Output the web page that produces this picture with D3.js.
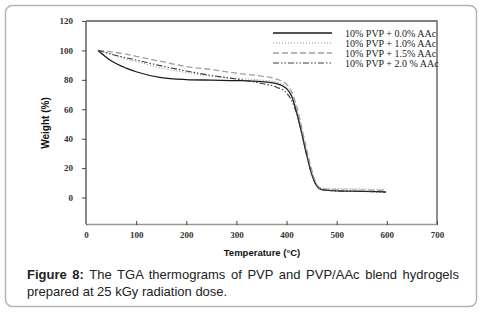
<!DOCTYPE html>
<html>
<head>
<meta charset="utf-8">
<script src="https://cdn.jsdelivr.net/npm/d3@7"></script>
<style>
  body { margin: 0; background: #fff; }
  #wrap { position: relative; width: 482px; height: 312px; }
  #caption {
    position: absolute; left: 27px; top: 266px; width: 432px;
    font-family: "Liberation Sans", Arial, sans-serif; font-size: 13px;
    line-height: 17px; color: #222; text-align: justify; text-align-last: left;
  }
</style>
</head>
<body>
<div id="wrap">
  <svg id="chart" width="482" height="312"></svg>
  <div id="caption"><b>Figure 8:</b> The TGA thermograms of PVP and PVP/AAc blend hydrogels prepared at 25 kGy radiation dose.</div>
</div>
<script>
// temperatures (°C)
var temps = [24, 50, 80, 100, 150, 200, 250, 300, 350, 380, 400, 410, 420, 430, 440, 450, 460, 470, 500, 550, 598];

var pvp00 = [100, 93, 88, 85.5, 81.5, 80.2, 79.8, 79.5, 78.8, 77.5, 74, 69, 58, 44, 29, 16, 8, 5.3, 4.5, 4.2, 3.8];
var pvp10 = [100, 97.5, 94, 92.5, 88, 85, 82.5, 81, 79.8, 78.5, 75, 70, 60, 46, 31, 18, 9, 6.5, 6, 5.8, 5.5];
var pvp15 = [100, 99, 97.5, 96, 92.5, 89, 87, 84.5, 82.5, 80.5, 77, 72, 62, 48, 33, 19, 9, 6, 5.2, 5, 4.8];
var pvp20 = [100, 97.5, 95, 93.5, 89.5, 86, 83, 80.5, 77.5, 75, 71, 66, 57, 44, 29, 16, 8, 5.5, 4.5, 4.2, 3.5];

var seriesNames = ["10% PVP + 0.0% AAc", "10% PVP + 1.0% AAc", "10% PVP + 1.5% AAc", "10% PVP + 2.0 % AAc"];
var xTicks = [0, 100, 200, 300, 400, 500, 600, 700];
var yTicks = [0, 20, 40, 60, 80, 100, 120];

var styles = [
  {stroke: "#1a1a1a", width: 1.3, dash: null},
  {stroke: "#8a8a8a", width: 1, dash: "1,2"},
  {stroke: "#a0a0a0", width: 1.3, dash: "6,3"},
  {stroke: "#3a3a3a", width: 1.1, dash: "6,2,1.5,2,1.5,2"}
];

var svg = d3.select("#chart");

// outer box
svg.append("rect")
  .attr("x", 5.5).attr("y", 5.5)
  .attr("width", 471).attr("height", 301)
  .attr("rx", 7)
  .attr("fill", "none")
  .attr("stroke", "#b5b5b5")
  .attr("stroke-width", 1.5);

var plotL = 86, plotR = 437, plotT = 21, plotB = 224;

var x = d3.scaleLinear().domain([0, 700]).range([plotL, plotR]);
var y = d3.scaleLinear().domain([-18, 120]).range([plotB, plotT]);

// frame top and right
svg.append("path")
  .attr("d", "M" + plotL + "," + plotT + "H" + plotR + "V" + plotB)
  .attr("fill", "none")
  .attr("stroke", "#555")
  .attr("stroke-width", 1.3);

var g = svg.append("g");

var xAxis = g.append("g")
  .attr("transform", "translate(0," + plotB + ")")
  .call(d3.axisBottom(x).tickValues(xTicks).tickSize(0).tickPadding(8));
xAxis.select(".domain").attr("stroke", "#999").attr("stroke-width", 1.5);
xAxis.selectAll(".tick").append("line")
  .attr("y1", -3).attr("y2", 1)
  .attr("stroke", "#444");

var yAxis = g.append("g")
  .attr("transform", "translate(" + plotL + ",0)")
  .call(d3.axisLeft(y).tickValues(yTicks).tickSize(4).tickPadding(9));
yAxis.select(".domain").attr("stroke", "#888").attr("stroke-width", 2)
  .attr("d", "M0," + plotT + "V" + plotB);
yAxis.selectAll(".tick line").attr("stroke", "#444");

g.selectAll(".tick text")
  .attr("font-family", "'Liberation Serif', 'Times New Roman', serif")
  .attr("font-size", 9)
  .attr("font-weight", "bold")
  .attr("fill", "#333");

// axis titles
svg.append("text")
  .attr("transform", "translate(49,123) rotate(-90)")
  .attr("text-anchor", "middle")
  .attr("font-family", "'Liberation Sans', Arial, sans-serif")
  .attr("font-size", 10)
  .attr("font-weight", "bold")
  .attr("fill", "#111")
  .text("Weight (%)");

svg.append("text")
  .attr("x", 262).attr("y", 256)
  .attr("text-anchor", "middle")
  .attr("font-family", "'Liberation Sans', Arial, sans-serif")
  .attr("font-size", 9.5)
  .attr("font-weight", "bold")
  .attr("fill", "#111")
  .text("Temperature (°C)");

// curves
var allSeries = [pvp00, pvp10, pvp15, pvp20];
var line = d3.line()
  .x(function (d) { return x(d[0]); })
  .y(function (d) { return y(d[1]); })
  .curve(d3.curveMonotoneX);

allSeries.forEach(function (vals, i) {
  var pts = temps.map(function (t, j) { return [t, vals[j]]; });
  svg.append("path")
    .datum(pts)
    .attr("d", line)
    .attr("fill", "none")
    .attr("stroke", styles[i].stroke)
    .attr("stroke-width", styles[i].width)
    .attr("stroke-dasharray", styles[i].dash);
});

// legend
var legend = svg.append("g");
seriesNames.forEach(function (name, i) {
  var ly = 33 + i * 10;
  legend.append("line")
    .attr("x1", 273).attr("x2", 332)
    .attr("y1", ly).attr("y2", ly)
    .attr("stroke", styles[i].stroke)
    .attr("stroke-width", styles[i].width)
    .attr("stroke-dasharray", styles[i].dash);
  legend.append("text")
    .attr("x", 345).attr("y", ly + 3.5)
    .attr("font-family", "'Liberation Serif', 'Times New Roman', serif")
    .attr("font-size", 10)
    .attr("fill", "#222")
    .text(name);
});
</script>
</body>
</html>
